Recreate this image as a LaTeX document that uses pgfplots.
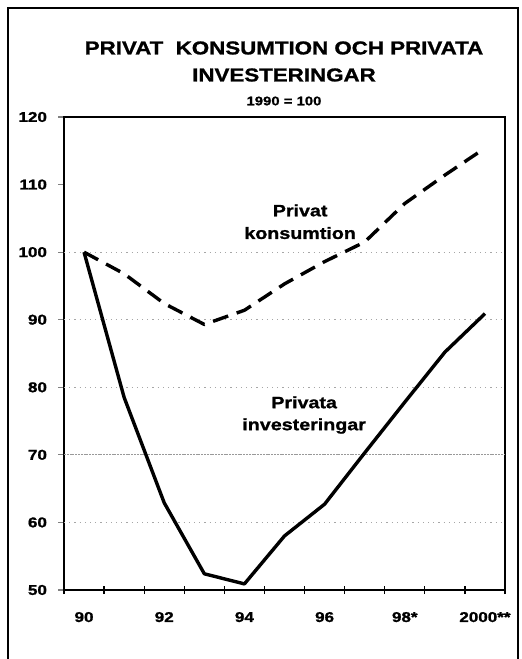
\documentclass[border=0pt]{standalone}
\usepackage{pgfplots}
\pgfplotsset{compat=1.18}
\usepackage{fontspec}
\setmainfont{Liberation Sans}[FakeStretch=1.2, BoldFeatures={FakeBold=1.2}]
\begin{document}
\begin{tikzpicture}[x=1pt,y=1pt]
\useasboundingbox (-32,-34.5) rectangle (229,295);
\draw[line width=1pt] (-28,-36) -- (-28,291) -- (227,291) -- (227,-36);
\node[font=\bfseries\fontsize{9.3}{10}\selectfont] at (110,271) {PRIVAT\ \ KONSUMTION OCH PRIVATA};
\node[font=\bfseries\fontsize{9.3}{10}\selectfont] at (110,257.5) {INVESTERINGAR};
\node[font=\bfseries\fontsize{6.2}{7}\selectfont] at (110,244.5) {1990 = 100};
\begin{axis}[
  at={(0,0)}, anchor=south west,
  scale only axis, width=220.5pt, height=236.5pt,
  xmin=-0.5, xmax=10.5, ymin=50, ymax=120,
  axis line style={line width=0.9pt},
  xtick={0,2,4,6,8,10},
  xticklabels={90,92,94,96,98*,2000**},
  minor xtick={-0.5,0.5,...,10.5},
  ytick={50,60,...,120},
  tick pos=left,
  tick align=outside,
  major tick length=3pt,
  x tick style={draw=none},
  minor tick length=4pt,
  minor x tick style={draw=black, line width=0.6pt, yshift=2pt},
  y tick style={line width=0.6pt},
  /pgf/number format/assume math mode=true,
  ticklabel style={font=\bfseries\fontsize{7.1}{8}\selectfont},
  xticklabel style={yshift=-4.5pt},
  yticklabel style={xshift=-2pt},
  extra y ticks={60,80,90,100},
  extra y tick labels={},
  extra y tick style={grid=major, major tick length=0pt,
     major grid style={gray!70, line width=0.4pt, dash pattern=on 0.6pt off 2pt}},
  clip=false,
]
\addplot[gray!80, line width=0.45pt, dash pattern=on 1pt off 0.4pt, forget plot] coordinates {(-0.5,70) (10.5,70)};
\addplot[black, line width=1.7pt, dash pattern=on 8pt off 4.5pt, line join=round] coordinates {
(0,100) (1,96.8) (2,92.4) (3,89.3) (4,91.4) (5,95.3) (6,98.6) (7,101.5) (8,107.2) (9,111.4) (10,115.4)};
\addplot[black, line width=1.7pt, line join=round] coordinates {
(0,100) (1,78.5) (2,62.9) (3,52.4) (4,50.9) (5,58.0) (6,62.7) (7,70.3) (8,77.8) (9,85.2) (10,90.9)};
\node[font=\bfseries\fontsize{8.2}{11.3}\selectfont, align=center] at (axis cs:5.39,104.5) {Privat\\konsumtion};
\node[font=\bfseries\fontsize{8.2}{11}\selectfont, align=center] at (axis cs:5.49,75.9) {Privata\\investeringar};
\end{axis}
\end{tikzpicture}
\end{document}
